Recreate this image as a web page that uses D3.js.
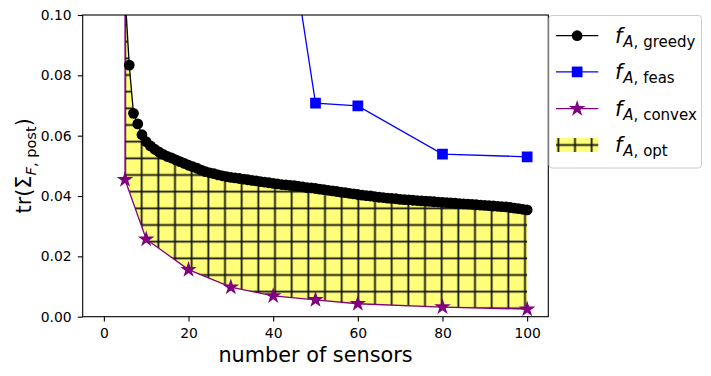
<!DOCTYPE html>
<meta charset="utf-8">
<script src="https://d3js.org/d3.v7.min.js"></script>
<style>
body { margin: 0; background: white; }
svg { font-family: "DejaVu Sans", sans-serif; display: block; }
.axis path, .axis line { stroke: black; stroke-width: 1.1; }
.axis text { font-size: 13.9px; fill: black; font-family: "DejaVu Sans"; }
</style>
<body>
<svg id="chart" width="711" height="376"></svg>
</body>
<script>
// number of sensors for the greedy run (5..100, every integer)
var greedyN = d3.range(5, 101);
var greedyVals = [
  0.1070, 0.0834, 0.0674, 0.0639, 0.0603, 0.0580, 0.0566, 0.0555, 0.0546, 0.0538,
  0.0531, 0.0526, 0.0520, 0.0514, 0.0508, 0.0502, 0.0497, 0.0492, 0.0486, 0.0481,
  0.0477, 0.0474, 0.0470, 0.0467, 0.0464, 0.0462, 0.0460, 0.0458, 0.0456, 0.0454,
  0.0452, 0.0450, 0.0448, 0.0446, 0.0444, 0.0442, 0.0440, 0.0438, 0.0437, 0.0435,
  0.0434, 0.0432, 0.0430, 0.0428, 0.0427, 0.0425, 0.0423, 0.0421, 0.0419, 0.0417,
  0.0415, 0.0413, 0.0411, 0.0409, 0.0407, 0.0405, 0.0403, 0.0401, 0.0400, 0.0398,
  0.0396, 0.0395, 0.0393, 0.0392, 0.0391, 0.0389, 0.0388, 0.0387, 0.0386, 0.0385,
  0.0384, 0.0383, 0.0382, 0.0381, 0.0380, 0.0379, 0.0378, 0.0377, 0.0376, 0.0375,
  0.0374, 0.0373, 0.0372, 0.0371, 0.0370, 0.0369, 0.0368, 0.0367, 0.0366, 0.0365,
  0.0364, 0.0362, 0.0360, 0.0358, 0.0356, 0.0354
];

var feasN = [40, 50, 60, 80, 100];
var feasVals = [0.162, 0.0708, 0.0699, 0.0539, 0.0530];

var convexN = [5, 10, 20, 30, 40, 50, 60, 80, 100];
var convexVals = [0.0454, 0.0257, 0.0156, 0.0098, 0.0069, 0.0056, 0.0043, 0.0032, 0.0025];

var xTicks = [0, 20, 40, 60, 80, 100];
var yTicks = [0, 0.02, 0.04, 0.06, 0.08, 0.10];

var legendLabels = ["greedy", "feas", "convex", "opt"];

var mLeft = 82.7, mRight = 548.3, mTop = 15, mBottom = 316.7;

var svg = d3.select("#chart");

var x = d3.scaleLinear().domain([-5, 105]).range([mLeft, mRight]);
var y = d3.scaleLinear().domain([0, 0.1]).range([mBottom, mTop]);

var defs = svg.append("defs");
defs.append("clipPath").attr("id", "plotclip")
  .append("rect")
    .attr("x", mLeft).attr("y", mTop)
    .attr("width", mRight - mLeft).attr("height", mBottom - mTop);

function hatch(id, dy) {
  var p = defs.append("pattern")
      .attr("id", id)
      .attr("patternUnits", "userSpaceOnUse")
      .attr("width", 50 / 3).attr("height", 50 / 3)
      .attr("patternTransform", "translate(0," + dy + ")");
  p.append("line").attr("x1", 25 / 3).attr("x2", 25 / 3).attr("y1", 0).attr("y2", 50 / 3)
    .attr("stroke", "#111").attr("stroke-width", 1.8);
  p.append("line").attr("y1", 25 / 3).attr("y2", 25 / 3).attr("x1", 0).attr("x2", 50 / 3)
    .attr("stroke", "#111").attr("stroke-width", 1.8);
}
hatch("hatch", 0);
hatch("hatchLeg", 3.33);

var greedy = greedyN.map(function(n, i) { return [n, greedyVals[i]]; });
var feas = feasN.map(function(n, i) { return [n, feasVals[i]]; });
var convex = convexN.map(function(n, i) { return [n, convexVals[i]]; });

var line = d3.line()
  .x(function(d) { return x(d[0]); })
  .y(function(d) { return y(d[1]); });

var plot = svg.append("g").attr("clip-path", "url(#plotclip)");

// optimum region: between convex bound and greedy
var region = greedy.concat(convex.slice().reverse());
plot.append("path")
  .attr("d", line(region) + "Z")
  .attr("fill", "#ffff7a");
plot.append("path")
  .attr("d", line(region) + "Z")
  .attr("fill", "url(#hatch)");
plot.append("line")
  .attr("x1", x(convex[0][0])).attr("x2", x(convex[0][0]))
  .attr("y1", y(convex[0][1])).attr("y2", y(greedy[0][1]))
  .attr("stroke", "purple").attr("stroke-width", 1.3);

var star = d3.symbol().type(d3.symbolStar).size(85);
var square = d3.symbol().type(d3.symbolSquare).size(115);

// convex
plot.append("path").attr("d", line(convex))
  .attr("fill", "none").attr("stroke", "purple").attr("stroke-width", 1.3);
plot.selectAll(".star").data(convex).enter().append("path")
  .attr("class", "star")
  .attr("d", star)
  .attr("transform", function(d) { return "translate(" + x(d[0]) + "," + y(d[1]) + ")"; })
  .attr("fill", "purple");

// feas
plot.append("path").attr("d", line(feas))
  .attr("fill", "none").attr("stroke", "blue").attr("stroke-width", 1.3);
plot.selectAll(".sq").data(feas).enter().append("path")
  .attr("class", "sq")
  .attr("d", square)
  .attr("transform", function(d) { return "translate(" + x(d[0]) + "," + y(d[1]) + ")"; })
  .attr("fill", "blue");

// greedy
plot.append("path").attr("d", line(greedy))
  .attr("fill", "none").attr("stroke", "black").attr("stroke-width", 1.3);
plot.selectAll(".dot").data(greedy).enter().append("circle")
  .attr("class", "dot")
  .attr("cx", function(d) { return x(d[0]); })
  .attr("cy", function(d) { return y(d[1]); })
  .attr("r", 5.4)
  .attr("fill", "black");

// axes
svg.append("g").attr("class", "axis")
  .attr("transform", "translate(0," + mBottom + ")")
  .call(d3.axisBottom(x).tickValues(xTicks).tickSize(4.9).tickPadding(6.5).tickSizeOuter(0))
  .select(".domain").remove();
svg.append("g").attr("class", "axis")
  .attr("transform", "translate(" + mLeft + ",0)")
  .call(d3.axisLeft(y).tickValues(yTicks).tickFormat(d3.format(".2f")).tickSize(4.9).tickPadding(6.1))
  .select(".domain").remove();

svg.append("rect")
  .attr("x", mLeft).attr("y", mTop)
  .attr("width", mRight - mLeft).attr("height", mBottom - mTop)
  .attr("fill", "none").attr("stroke", "black").attr("stroke-width", 1.1);

// axis labels
svg.append("text")
  .attr("x", (mLeft + mRight) / 2).attr("y", 361.5)
  .attr("text-anchor", "middle")
  .style("font-size", "20.8px")
  .text("number of sensors");

var yl = svg.append("text")
  .attr("transform", "translate(31," + ((mTop + mBottom) / 2) + ") rotate(-90)")
  .attr("text-anchor", "middle")
  .style("font-size", "20.8px");
yl.append("tspan").text("tr(Σ");
yl.append("tspan").attr("dy", 4.5).style("font-size", "14.6px").style("font-style", "italic").text("F");
yl.append("tspan").style("font-size", "14.6px").text(", post");
yl.append("tspan").attr("dy", -4.5).text(")");

// legend
var leg = svg.append("g");
leg.append("rect")
  .attr("x", 549).attr("y", 15.5)
  .attr("width", 152.5).attr("height", 152.5)
  .attr("rx", 3)
  .attr("fill", "white").attr("fill-opacity", 0.8)
  .attr("stroke", "#cccccc").attr("stroke-width", 1);

var rowY = [35.7, 71.9, 108.7, 145];
var hx0 = 556, hx1 = 598.3, hxm = (hx0 + hx1) / 2;

leg.append("line").attr("x1", hx0).attr("x2", hx1).attr("y1", rowY[0]).attr("y2", rowY[0])
  .attr("stroke", "black").attr("stroke-width", 1.3);
leg.append("circle").attr("cx", hxm).attr("cy", rowY[0]).attr("r", 5.4).attr("fill", "black");

leg.append("line").attr("x1", hx0).attr("x2", hx1).attr("y1", rowY[1]).attr("y2", rowY[1])
  .attr("stroke", "blue").attr("stroke-width", 1.3);
leg.append("path").attr("d", square).attr("transform", "translate(" + hxm + "," + rowY[1] + ")")
  .attr("fill", "blue");

leg.append("line").attr("x1", hx0).attr("x2", hx1).attr("y1", rowY[2]).attr("y2", rowY[2])
  .attr("stroke", "purple").attr("stroke-width", 1.3);
leg.append("path").attr("d", star).attr("transform", "translate(" + hxm + "," + rowY[2] + ")")
  .attr("fill", "purple");

leg.append("rect").attr("x", hx0).attr("y", rowY[3] - 7).attr("width", hx1 - hx0).attr("height", 14)
  .attr("fill", "#ffff7a");
leg.append("rect").attr("x", hx0).attr("y", rowY[3] - 7).attr("width", hx1 - hx0).attr("height", 14)
  .attr("fill", "url(#hatchLeg)");

legendLabels.forEach(function(lab, i) {
  var t = leg.append("text")
    .attr("x", 615).attr("y", rowY[i] + 7)
    .style("font-size", "20.8px");
  t.append("tspan").style("font-style", "italic").text("f");
  t.append("tspan").attr("dy", 4).attr("dx", 1).style("font-size", "15px").style("font-style", "italic").text("A");
  t.append("tspan").style("font-size", "15px").text(", " + lab);
});
</script>
